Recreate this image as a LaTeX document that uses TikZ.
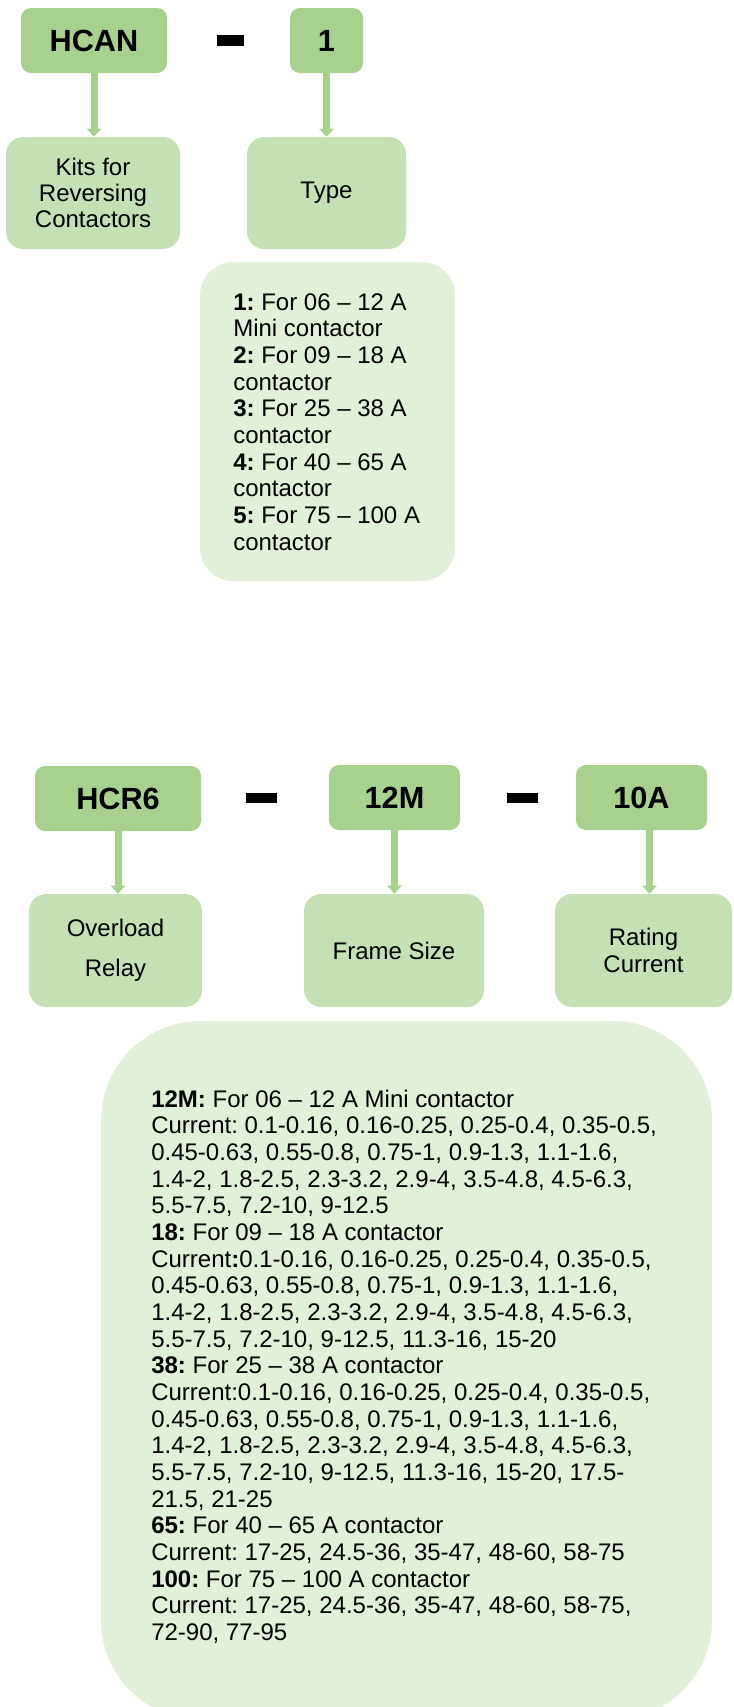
\documentclass[tikz,border=0pt]{standalone}
\usepackage{fontspec}
\setmainfont{Liberation Sans}
\usetikzlibrary{arrows.meta,calc}
\definecolor{hdrgreen}{HTML}{A9D18E}
\definecolor{lblgreen}{HTML}{C5E0B4}
\definecolor{listgreen}{HTML}{E2F0D9}
\frenchspacing

\tikzset{
  hdr/.style={fill=hdrgreen, rounded corners=7.5pt, inner sep=0pt,
    minimum height=48.75pt, font=\fontsize{23pt}{27pt}\selectfont\bfseries},
  lbl/.style={fill=lblgreen, rounded corners=13pt, inner sep=0pt, align=center,
    font=\fontsize{18pt}{19.5pt}\selectfont},
  listbox/.style={fill=listgreen, inner sep=0pt},
  sepbar/.style={fill=black, inner sep=0pt},
  feed/.style={draw=hdrgreen, line width=5.25pt,
    -{Triangle[width=10.5pt,length=6pt]}},
  body/.style={anchor=base west, inner sep=0pt,
    font=\fontsize{18pt}{20pt}\selectfont},
}

\begin{document}
\begin{tikzpicture}[x=0.75pt,y=-0.75pt]
\useasboundingbox (0,0) rectangle (733,1707);

% ---------- HCAN - 1 ----------
\node[hdr, minimum width=109.5pt] (hcan) at (94,40.5) {HCAN};
\node[sepbar, minimum width=20.25pt, minimum height=8.25pt] (dashA) at (230.5,40.5) {};
\node[hdr, minimum width=54.75pt] (one) at (326.5,40.5) {1};

\node[lbl, minimum width=130.5pt, minimum height=84pt] (kits) at (93,193) {Kits for\\Reversing\\Contactors};
\node[lbl, minimum width=119.25pt, minimum height=84pt] (type) at (326.5,193) {Type};

\draw[feed] (hcan.south) -- (hcan.south |- kits.north);
\draw[feed] (one.south) -- (one.south |- type.north);

\node[listbox, minimum width=191.25pt, minimum height=239.25pt, rounded corners=25pt] (typelist) at (327.5,421.5) {};
\node[body] (typetext) at (233,310) {\parbox[t]{220pt}{\raggedright
\textbf{1:} For 06 – 12 A\\
Mini contactor\\
\textbf{2:} For 09 – 18 A\\
contactor\\
\textbf{3:} For 25 – 38 A\\
contactor\\
\textbf{4:} For 40 – 65 A\\
contactor\\
\textbf{5:} For 75 – 100 A\\
contactor}};

% ---------- HCR6 - 12M - 10A ----------
\node[hdr, minimum width=124.5pt] (hcr) at (118,798.5) {HCR6};
\node[sepbar, minimum width=23.25pt, minimum height=7.5pt] (dashB) at (261.5,798) {};
\node[hdr, minimum width=98.25pt] (m12) at (394.5,797.5) {12M};
\node[sepbar, minimum width=23.25pt, minimum height=7.5pt] (dashC) at (522.5,798) {};
\node[hdr, minimum width=98.25pt] (a10) at (641.5,797.5) {10A};

\node[lbl, minimum width=129.75pt, minimum height=84.75pt, font=\fontsize{18pt}{30pt}\selectfont] (relay) at (115.5,950.5) {Overload\\Relay};
\node[lbl, minimum width=135pt, minimum height=84.75pt] (frame) at (394,950.5) {Frame Size};
\node[lbl, minimum width=132.75pt, minimum height=84.75pt, font=\fontsize{18pt}{20.25pt}\selectfont] (rating) at (643.5,950.5) {Rating\\Current};

\coordinate (a10foot) at ([xshift=6pt]a10.south);
\draw[feed] (hcr.south) -- (hcr.south |- relay.north);
\draw[feed] (m12.south) -- (m12.south |- frame.north);
\draw[feed] (a10foot) -- (a10foot |- rating.north);

\node[listbox, minimum width=458.25pt, minimum height=524.25pt, rounded corners=75pt] (rangelist) at (406.5,1370.5) {};
\node[body] (rangetext) at (151,1107) {\parbox[t]{440pt}{\raggedright
\textbf{12M:} For 06 – 12 A Mini contactor\\
Current: 0.1-0.16, 0.16-0.25, 0.25-0.4, 0.35-0.5,\\
0.45-0.63, 0.55-0.8, 0.75-1, 0.9-1.3, 1.1-1.6,\\
1.4-2, 1.8-2.5, 2.3-3.2, 2.9-4, 3.5-4.8, 4.5-6.3,\\
5.5-7.5, 7.2-10, 9-12.5\\
\textbf{18:} For 09 – 18 A contactor\\
Current\textbf{:}0.1-0.16, 0.16-0.25, 0.25-0.4, 0.35-0.5,\\
0.45-0.63, 0.55-0.8, 0.75-1, 0.9-1.3, 1.1-1.6,\\
1.4-2, 1.8-2.5, 2.3-3.2, 2.9-4, 3.5-4.8, 4.5-6.3,\\
5.5-7.5, 7.2-10, 9-12.5, 11.3-16, 15-20\\
\textbf{38:} For 25 – 38 A contactor\\
Current:0.1-0.16, 0.16-0.25, 0.25-0.4, 0.35-0.5,\\
0.45-0.63, 0.55-0.8, 0.75-1, 0.9-1.3, 1.1-1.6,\\
1.4-2, 1.8-2.5, 2.3-3.2, 2.9-4, 3.5-4.8, 4.5-6.3,\\
5.5-7.5, 7.2-10, 9-12.5, 11.3-16, 15-20, 17.5-\\
21.5, 21-25\\
\textbf{65:} For 40 – 65 A contactor\\
Current: 17-25, 24.5-36, 35-47, 48-60, 58-75\\
\textbf{100:} For 75 – 100 A contactor\\
Current: 17-25, 24.5-36, 35-47, 48-60, 58-75,\\
72-90, 77-95}};
\end{tikzpicture}
\end{document}
